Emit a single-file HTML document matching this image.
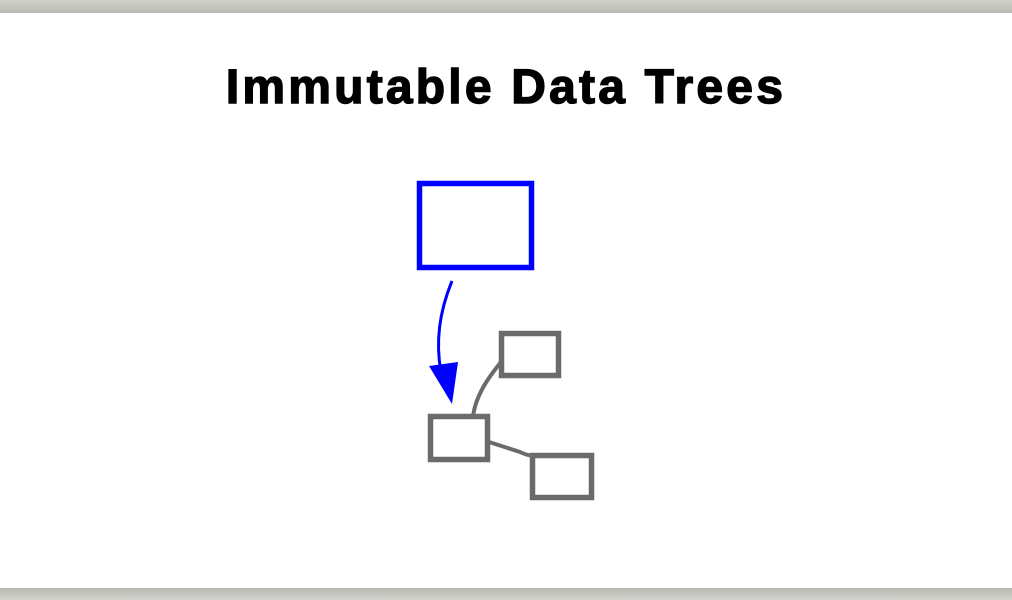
<!DOCTYPE html>
<html><head><style>
html,body{margin:0;padding:0;width:1012px;height:600px;overflow:hidden;background:#fff;}
.top{position:absolute;left:0;top:0;width:1012px;height:13px;background:linear-gradient(#d3d3ce,#b9b9b4);}
.bot{position:absolute;left:0;top:588px;width:1012px;height:12px;background:linear-gradient(#b9b9b4,#d3d3ce);}
h1{position:absolute;left:0;width:1012px;top:62px;margin:0;text-align:center;font:bold 48px/52px "Liberation Sans",sans-serif;letter-spacing:3.2px;color:#000;-webkit-text-stroke:1.4px #000;}
svg{position:absolute;left:0;top:0;}
</style></head><body>
<div class="top"></div>
<h1>Immutable Data Trees</h1>
<svg width="1012" height="600">
<rect x="419.5" y="183.5" width="112" height="84" fill="none" stroke="#0000ff" stroke-width="5.5"/>
<g fill="none" stroke="#6b6b6b" stroke-width="5.5">
<rect x="501.5" y="333.5" width="57" height="42"/>
<rect x="430.5" y="416.5" width="57" height="43"/>
<rect x="532.5" y="455.5" width="59" height="42"/>
<path d="M473,416 C476,395 488,378 501,362" stroke-width="4"/>
<path d="M489,442 L520,452 Q526,455 533,456" stroke-width="4"/>
</g>
<path d="M452,281 C440,310 435,340 441,372" fill="none" stroke="#0000ff" stroke-width="3"/>
<polygon points="429,366 458,362 452,404" fill="#0000ff"/>
</svg>
<div class="bot"></div>
</body></html>
